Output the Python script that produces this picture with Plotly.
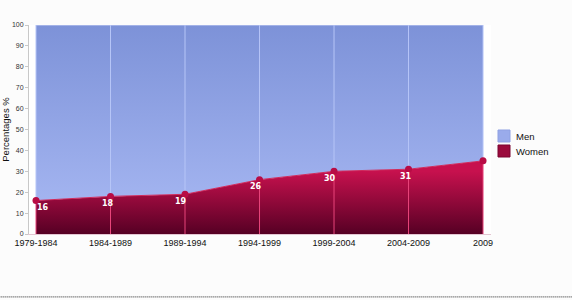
import plotly.graph_objects as go

periods = ["1979-1984", "1984-1989", "1989-1994", "1994-1999", "1999-2004", "2004-2009", "2009"]
women = [16, 18, 19, 26, 30, 31, 35]
men = [100 - w for w in women]
y_ticks = [0, 10, 20, 30, 40, 50, 60, 70, 80, 90, 100]
label_xshift = [7, -3, -4, -4, -4, -3, -14]
legend_names = ["Men", "Women"]
legend_colors = ["#9aabeb", "#9a0a3c"]
legend_borders = ["#8fa1e3", "#7a0530"]

fig = go.Figure()

# Women area
fig.add_trace(go.Scatter(
    x=periods, y=women, name="Women", stackgroup="one",
    mode="lines", line=dict(color="#cf2a5c", width=1),
    fillgradient=dict(type="vertical", colorscale=[[0, "#560024"], [1, "#c7114e"]], start=0, stop=30),
    hoverinfo="skip", showlegend=False,
))
# Men area (stacked on women to 100)
fig.add_trace(go.Scatter(
    x=periods, y=men, name="Men", stackgroup="one",
    mode="lines", line=dict(color="#c9d2f5", width=1),
    fillgradient=dict(type="vertical", colorscale=[[0, "#a3b4f0"], [1, "#7d92d8"]], start=15, stop=100),
    hoverinfo="skip", showlegend=False,
))

# vertical grid lines over the areas
gx_w, gy_w, gx_m, gy_m = [], [], [], []
for p, w in zip(periods, women):
    gx_w += [p, p, None]; gy_w += [0, w, None]
    gx_m += [p, p, None]; gy_m += [w, 100, None]
fig.add_trace(go.Scatter(x=gx_w, y=gy_w, mode="lines", line=dict(color="#e8457a", width=1),
                         showlegend=False, hoverinfo="skip"))
fig.add_trace(go.Scatter(x=gx_m, y=gy_m, mode="lines", line=dict(color="#b6c5f7", width=1),
                         showlegend=False, hoverinfo="skip"))

# markers
fig.add_trace(go.Scatter(x=periods, y=women, mode="markers",
                         marker=dict(color="#b80c45", size=7),
                         showlegend=False, hoverinfo="skip"))

for p, w, xs in zip(periods, women, label_xshift):
    fig.add_annotation(x=p, y=w, text=f"<b>{w}</b>", showarrow=False,
                       xshift=xs, yshift=-7,
                       font=dict(family="DejaVu Sans", size=8, color="white"))

# legend (drawn manually for square swatches)
W, H = 462.0, 209.0
for i, (nm, col, bc) in enumerate(zip(legend_names, legend_colors, legend_borders)):
    top = 130 + 15 * i
    fig.add_shape(type="rect", xref="paper", yref="paper",
                  x0=(498 - 29) / W, x1=(510 - 29) / W,
                  y0=(234 - top) / H, y1=(234 - top - 12) / H,
                  fillcolor=col, line=dict(color=bc, width=1))
    fig.add_annotation(xref="paper", yref="paper", x=(514 - 29) / W, y=(234 - top - 6) / H,
                       text=nm, showarrow=False, xanchor="left", yanchor="middle",
                       font=dict(family="Liberation Sans", size=9.5, color="#111111"))

# dotted bottom rule
fig.add_shape(type="line", xref="paper", yref="paper", x0=-0.07, x1=1.2, y0=-0.301, y1=-0.301,
              line=dict(color="#222222", width=1, dash="1px,1px"))

fig.update_layout(
    width=572, height=300,
    margin=dict(l=29, r=81, t=25, b=66, autoexpand=False),
    paper_bgcolor="#fcfcfc", plot_bgcolor="#ffffff",
    font=dict(family="Liberation Sans", color="#111111"),
    showlegend=False,
    xaxis=dict(type="category", range=[-0.094, 6.107], showgrid=False, automargin=False,
               showline=True, linecolor="#e3c6d2", ticks="", zeroline=False,
               tickfont=dict(size=9, color="#111111"), fixedrange=True),
    yaxis=dict(range=[0, 100], tickvals=y_ticks, showgrid=False, zeroline=False, automargin=False,
               showline=True, linecolor="#c8c8c8", ticks="outside", ticklen=3,
               tickcolor="#c8c8c8", tickfont=dict(size=7, color="#333333"),
               title=dict(text="Percentages %", font=dict(size=9.5, color="#111111"), standoff=2)),
    yaxis2=dict(range=[0, 100], tickvals=y_ticks, overlaying="y", side="right", automargin=False,
                showgrid=False, zeroline=False, showticklabels=False,
                showline=True, linecolor="#c8c8c8", ticks="inside", ticklen=8,
                tickcolor="#d0d0d0"),
)

fig.write_html("out.html")
